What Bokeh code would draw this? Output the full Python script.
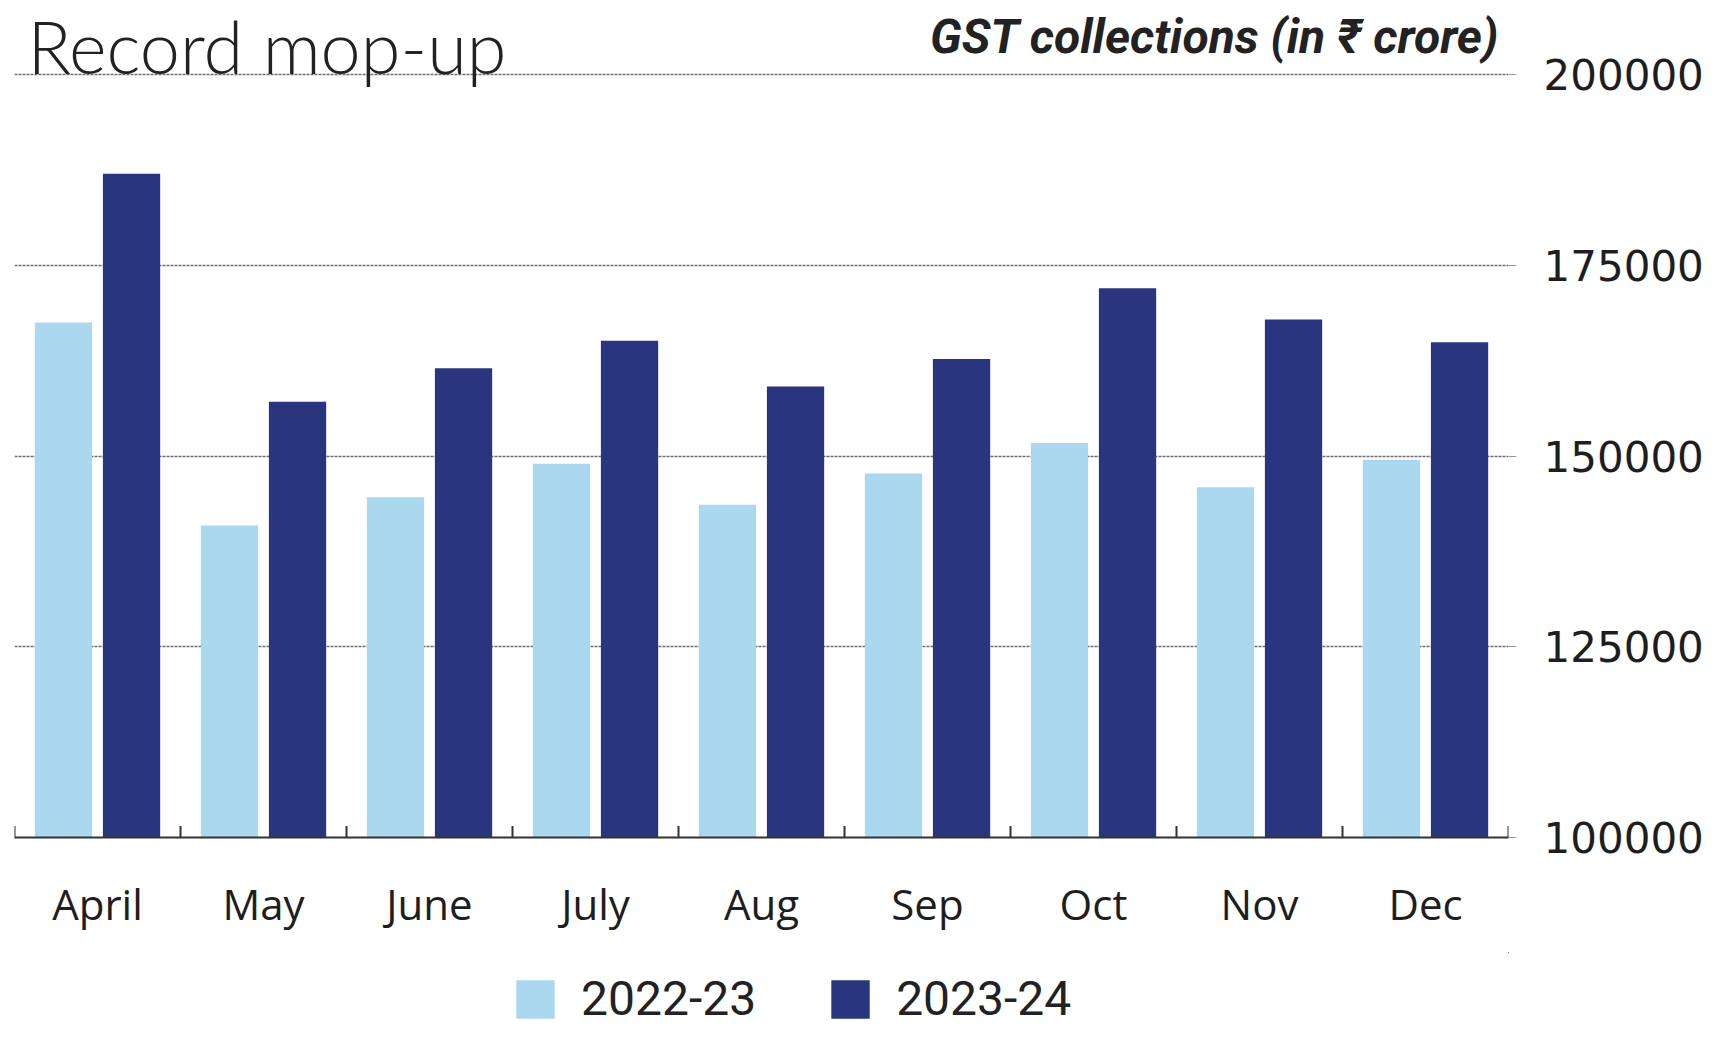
from bokeh.plotting import figure
from bokeh.layouts import column
from bokeh.models import (ColumnDataSource, FactorRange, Range1d, FixedTicker,
                          Label, Legend, LegendItem, NumeralTickFormatter)
from bokeh.transform import dodge
from bokeh.embed import file_html
from bokeh.resources import INLINE

# ---- data (GST collections, in Rs crore) ----
months = ["April", "May", "June", "July", "Aug", "Sep", "Oct", "Nov", "Dec"]
gst_2022_23 = [167500, 140900, 144600, 149000, 143600, 147700, 151700, 145900, 149500]
gst_2023_24 = [187000, 157100, 161500, 165100, 159100, 162700, 172000, 167900, 164900]
series_names = ["2022-23", "2023-24"]
y_ticks = [100000, 125000, 150000, 175000, 200000]
y_min, y_max = 100000, 200000

LIGHT = "#a9d8ef"
DARK = "#29367f"

src = ColumnDataSource(dict(months=months, a=gst_2022_23, b=gst_2023_24))
last = ColumnDataSource(dict(months=months[-1:]))

W = 1715
MAIN_H, FOOT_H = 952, 75
BOTTOM = 115
TOP_GAP = 74                      # pixels above the 200000 line kept for the titles
frame_h = MAIN_H - BOTTOM         # frame spans from canvas top to the baseline
y_top = y_max + TOP_GAP * (y_max - y_min) / (frame_h - TOP_GAP)

p = figure(x_range=FactorRange(*months, range_padding=0),
           y_range=Range1d(y_min, y_top),
           width=W, height=MAIN_H, output_backend="svg", toolbar_location=None,
           y_axis_location="right",
           min_border_left=14, min_border_right=207,
           min_border_top=0, min_border_bottom=BOTTOM)
p.outline_line_color = None
p.background_fill_color = "white"
p.border_fill_color = "white"

p.vbar(x=dodge("months", -0.205, range=p.x_range), top="a", bottom=y_min,
       width=0.345, source=src, fill_color=LIGHT, line_color=None)
p.vbar(x=dodge("months", 0.205, range=p.x_range), top="b", bottom=y_min,
       width=0.345, source=src, fill_color=DARK, line_color=None)

# small upward ticks at category boundaries on the baseline
p.segment(x0=dodge("months", -0.5, range=p.x_range), y0=y_min,
          x1=dodge("months", -0.5, range=p.x_range), y1=y_min + 1500,
          source=src, line_color="#333333", line_width=2)
p.segment(x0=dodge("months", 0.5, range=p.x_range), y0=y_min,
          x1=dodge("months", 0.5, range=p.x_range), y1=y_min + 1500,
          source=last, line_color="#333333", line_width=2)

# grid
p.xgrid.grid_line_color = None
p.ygrid.ticker = FixedTicker(ticks=y_ticks)
p.ygrid.grid_line_color = "#6e6e6e"
p.ygrid.grid_line_width = 1.5
p.ygrid.grid_line_dash = "3 1"

# y axis (right)
ya = p.yaxis[0]
ya.ticker = FixedTicker(ticks=y_ticks)
ya.formatter = NumeralTickFormatter(format="0")
ya.axis_line_color = None
ya.major_tick_in = 0
ya.major_tick_out = 8
ya.major_tick_line_color = "#999999"
ya.minor_tick_line_color = None
ya.major_label_standoff = 27
ya.major_label_text_font = "DejaVu Sans"
ya.major_label_text_font_size = "42px"
ya.major_label_text_color = "#1e1e1e"

# x axis
xa = p.xaxis[0]
xa.axis_line_color = "#333333"
xa.axis_line_width = 2
xa.major_tick_line_color = None
xa.minor_tick_line_color = None
xa.major_label_standoff = 31
xa.major_label_text_font = "Open Sans"
xa.major_label_text_font_size = "42px"
xa.major_label_text_color = "#1e1e1e"

# titles (inside the frame's top strip)
p.add_layout(Label(x=13, y=frame_h - 45, x_units="screen", y_units="screen",
                   text="Record mop-up", text_font="Lato Light, Open Sans, sans-serif",
                   text_font_size="72px", text_color="#222222",
                   text_baseline="alphabetic"))
p.add_layout(Label(x=1485, y=frame_h - 36, x_units="screen", y_units="screen",
                   text="GST collections (in ₹ crore)",
                   text_font="Roboto, sans-serif",
                   text_font_style="bold italic",
                   text_font_size="48px", text_color="#222222",
                   text_align="right", text_baseline="alphabetic"))

# ---- legend strip below the chart ----
foot = figure(x_range=Range1d(0, 1), y_range=Range1d(0, 1),
              width=W, height=FOOT_H, output_backend="svg", toolbar_location=None,
              min_border_left=0, min_border_right=0, min_border_top=0,
              min_border_bottom=0, x_axis_type=None, y_axis_type=None)
foot.outline_line_color = None
foot.grid.visible = False
# legend swatches reuse the series (drawn far outside this strip's view)
f1 = foot.vbar(x="a", top="a", bottom=y_min, width=0.345, source=src,
               fill_color=LIGHT, line_color=None)
f2 = foot.vbar(x="b", top="b", bottom=y_min, width=0.345, source=src,
               fill_color=DARK, line_color=None)
legend = Legend(items=[LegendItem(label=series_names[0], renderers=[f1]),
                       LegendItem(label=series_names[1], renderers=[f2])],
                orientation="horizontal", location=(497, 0),
                glyph_width=48, glyph_height=48, label_standoff=22, spacing=70,
                padding=0, margin=0, border_line_color=None,
                background_fill_alpha=0,
                label_text_font="Roboto, sans-serif",
                label_text_font_size="48px", label_text_color="#222222")
foot.add_layout(legend)

layout = column(p, foot, spacing=0)
open("out.html", "w").write(file_html(layout, INLINE))
